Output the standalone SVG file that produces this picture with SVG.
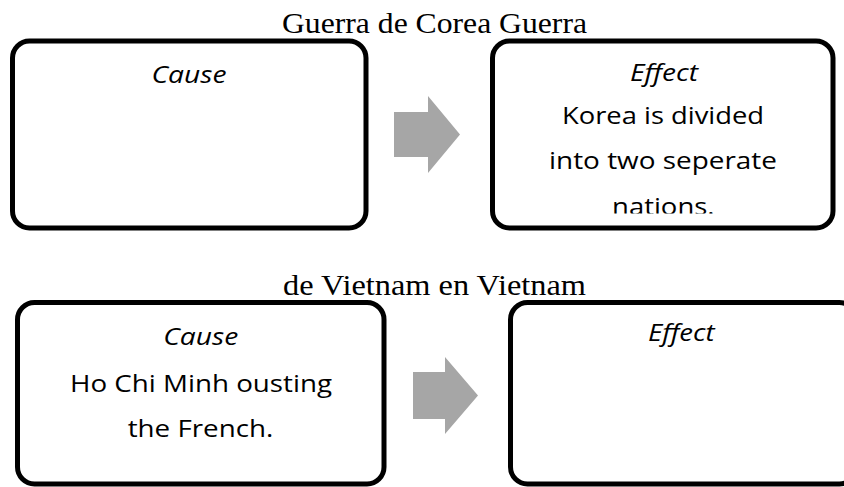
<svg xmlns="http://www.w3.org/2000/svg" width="844" height="487" viewBox="0 0 844 487">
<style>
.box{fill:#fff;stroke:#000;stroke-width:5}
.title{font-family:"Liberation Serif","Times New Roman",serif;font-size:30px;fill:#000;text-anchor:middle}
.hd{font-family:"Open Sans","Noto Sans",sans-serif;font-style:italic;font-size:24px;fill:#000;text-anchor:middle}
.bd{font-family:"Open Sans","Noto Sans",sans-serif;font-size:24.5px;fill:#000;text-anchor:middle}
.arrow{fill:#a6a6a6;stroke:none}
</style>
<defs>
<clipPath id="clipTR"><rect x="495" y="44" width="336" height="169.5"/></clipPath>
</defs>
<rect width="844" height="487" fill="#fff"/>
<text class="title" x="434.5" y="33.3" textLength="305" lengthAdjust="spacingAndGlyphs">Guerra de Corea Guerra</text>
<text class="title" x="434.5" y="295" textLength="303" lengthAdjust="spacingAndGlyphs">de Vietnam en Vietnam</text>
<g id="korea-cause">
<rect class="box" x="12.5" y="41" width="353.5" height="187" rx="17"/>
<text class="hd" x="189" y="83" textLength="75" lengthAdjust="spacingAndGlyphs">Cause</text>
</g>
<g id="korea-effect">
<rect class="box" x="492.5" y="41" width="340.5" height="187" rx="17"/>
<text class="hd" x="664" y="81" textLength="68" lengthAdjust="spacingAndGlyphs">Effect</text>
<text class="bd" x="663" y="123.5" textLength="202" lengthAdjust="spacingAndGlyphs">Korea is divided</text>
<text class="bd" x="663" y="169" textLength="228" lengthAdjust="spacingAndGlyphs">into two seperate</text>
<text class="bd" x="663.3" y="214.5" textLength="102.5" lengthAdjust="spacingAndGlyphs" clip-path="url(#clipTR)">nations.</text>
</g>
<g id="vietnam-cause">
<rect class="box" x="17.5" y="302.5" width="366.5" height="181.5" rx="17"/>
<text class="hd" x="200.7" y="345" textLength="75" lengthAdjust="spacingAndGlyphs">Cause</text>
<text class="bd" x="201" y="391.7" textLength="262" lengthAdjust="spacingAndGlyphs">Ho Chi Minh ousting</text>
<text class="bd" x="200.5" y="436.7" textLength="145.6" lengthAdjust="spacingAndGlyphs">the French.</text>
</g>
<g id="vietnam-effect">
<rect class="box" x="510.5" y="302.5" width="346" height="181.5" rx="17"/>
<text class="hd" x="681.3" y="341" textLength="66.7" lengthAdjust="spacingAndGlyphs">Effect</text>
</g>
<g id="connectors">
<path class="arrow" d="M394,112 H428 V96 L460,134.5 L428,173 V157 H394 Z"/>
<path class="arrow" d="M413,372 H445 V357 L478,395.5 L445,434 V419 H413 Z"/>
</g>
</svg>
